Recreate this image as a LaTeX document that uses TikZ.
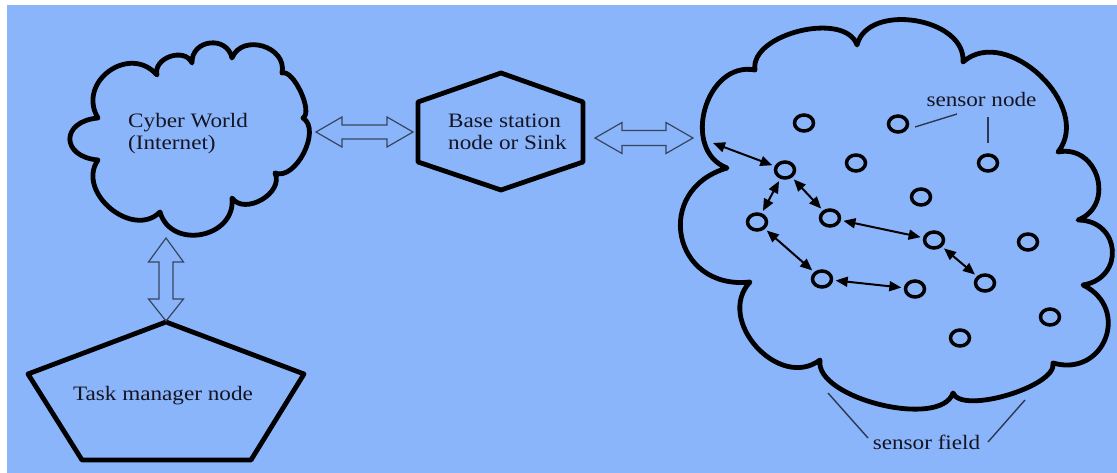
\documentclass[tikz,border=0pt]{standalone}
\usepackage{fontspec}
\setmainfont{Liberation Serif}
\usetikzlibrary{arrows.meta,shapes.geometric}
\definecolor{bg}{RGB}{139,181,250}
\definecolor{ink}{RGB}{20,20,35}
\definecolor{hollow}{RGB}{55,68,95}
\definecolor{leadc}{RGB}{45,55,80}
\begin{document}
\begin{tikzpicture}[x=1pt,y=1pt,
  outline/.style={draw=black, line width=4.8pt, line join=round},
  lobe/.style={bend left=85, looseness=#1},
  lbl/.style={text=ink, inner sep=0pt, font=\fontsize{20.5}{22}\selectfont, xscale=1.13, transform shape},
  sensor/.style={ellipse, draw=black, line width=3.5pt, minimum width=19pt, minimum height=16pt, inner sep=0pt},
  link/.style={{Triangle[length=12pt,width=10pt]}-{Triangle[length=12pt,width=10pt]}, line width=2pt, shorten >=2.5pt, shorten <=2.5pt},
  hollowarrow/.style={draw=hollow, line width=1.2pt, line join=miter},
  leader/.style={draw=leadc, line width=1.4pt}]
\useasboundingbox (0,0) rectangle (1117,473);
\fill[white] (0,0) rectangle (1117,473);
\fill[bg] (7,0) rectangle (1117,468);

% left cloud
\draw[outline] (157,398) to[lobe=1.23] (192,410) to[lobe=1.5] (232,415) to[lobe=1.33] (282,400)
  to[lobe=0.62] (303,355) to[lobe=0.92] (275,300) to[lobe=1.13] (232,275) to[lobe=1.4] (160,261)
  to[lobe=1.23] (98,313) to[lobe=2.3] (98,355) to[lobe=1.47] (157,398) -- cycle;
\node[lbl, align=left, anchor=base west] (cw) at (128,323) {Cyber World\\(Internet)};

% hexagon
\draw[outline] (501,400) -- (583,371) -- (583,311) -- (501,283) -- (418,311) -- (418,371) -- cycle;
\node[lbl, align=left, anchor=base west] (bs) at (448,323) {Base station\\node or Sink};

% pentagon
\draw[outline] (166,151) -- (304,99) -- (251,13) -- (82,13) -- (28,99) -- cycle;
\node[lbl, anchor=base] (tm) at (163,72) {Task manager node};

% hollow double arrows
\draw[hollowarrow] (316,341) -- (342,356) -- (342,348) -- (387,348) -- (387,356) -- (413,341)
  -- (387,326) -- (387,334) -- (342,334) -- (342,326) -- cycle;
\draw[hollowarrow] (595,335) -- (622,350.5) -- (622,342.5) -- (666,342.5) -- (666,350.5) -- (693,335)
  -- (666,319.5) -- (666,327.5) -- (622,327.5) -- (622,319.5) -- cycle;
\draw[hollowarrow] (166,235) -- (183.5,211) -- (173,211) -- (173,174) -- (183.5,174) -- (166,152)
  -- (148.5,174) -- (159,174) -- (159,211) -- (148.5,211) -- cycle;

% right cloud (sensor field)
\draw[outline] (727,305) to[lobe=1.26] (755,403) to[lobe=0.89] (857,428) to[lobe=1.06] (963,411)
  to[lobe=1.13] (1058,321) to[lobe=1.47] (1078,253) to[lobe=1.68] (1083,188) to[lobe=1.64] (1053,110)
  to[lobe=0.58] (953,80) to[lobe=0.72] (820,113) to[lobe=1.26] (750,191) to[lobe=1.71] (727,305) -- cycle;

% sensor nodes
\foreach \n/\x/\y in {1/804/350, 2/898/349, 3/856/310, 4/988/310, 5/785/303, 6/921/276, 7/757/251,
  8/830/255, 9/934/233, 10/1028/231, 11/822/194, 12/915/184, 13/985/190, 14/1050/156, 15/960/135}
  \node[sensor] (s\n) at (\x,\y) {};

\coordinate (edge) at (713,330);
\draw[link, shorten <=0pt] (edge) -- (s5);
\draw[link] (s5) -- (s7);
\draw[link] (s5) -- (s8);
\draw[link] (s8) -- (s9);
\draw[link] (s7) -- (s11);
\draw[link] (s9) -- (s13);
\draw[link] (s11) -- (s12);

% labels
\node[lbl, anchor=base] (sn) at (981.5,366) {sensor node};
\node[lbl, anchor=base] (sf) at (926.5,23) {sensor field};
\draw[leader] (915,346) -- (957,359);
\draw[leader] (988,356) -- (988,330);
\draw[leader] (828,80) -- (868,35);
\draw[leader] (988,31) -- (1025,73);
\end{tikzpicture}
\end{document}
